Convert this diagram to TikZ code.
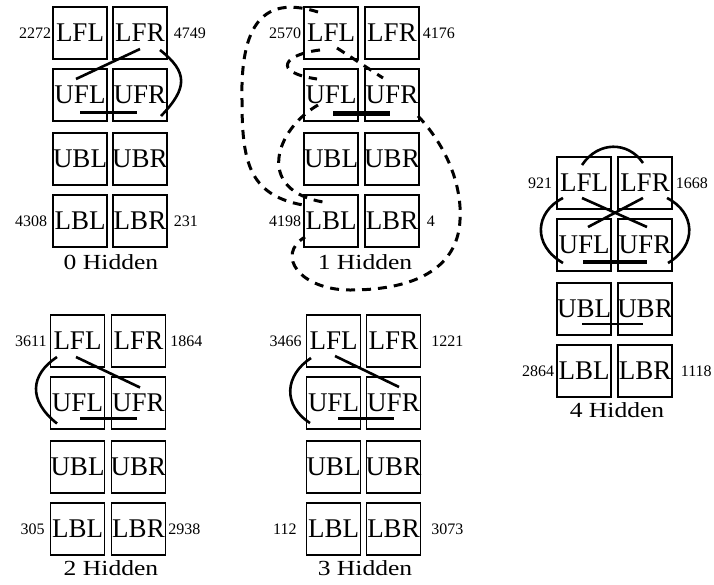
\documentclass[tikz,border=0pt]{standalone}
\usepackage{fontspec}
\setmainfont{Liberation Serif}
\usetikzlibrary{calc}
\tikzset{
  cell/.style={draw, line width=1.4pt, minimum width=54pt, minimum height=52pt, inner sep=0pt, font=\fontsize{27}{27}\selectfont},
  num/.style={inner sep=0pt, font=\fontsize{16}{16}\selectfont},
  capt/.style={inner sep=0pt, font=\fontsize{21.5}{21.5}\selectfont},
  link/.style={line width=2.6pt},
  dlink/.style={line width=3pt, dash pattern=on 9pt off 7pt},
  bar/.style={line width=3pt},
}
\newcommand{\cubepanel}[4]{%
  \node[cell] (#1LFL) at ({#2},{#4}) {\makebox[0pt]{LFL}};
  \node[cell] (#1LFR) at ({#3},{#4}) {\makebox[0pt]{LFR}};
  \node[cell] (#1UFL) at ({#2},{#4+62}) {\makebox[0pt]{UFL}};
  \node[cell] (#1UFR) at ({#3},{#4+62}) {\makebox[0pt]{UFR}};
  \node[cell] (#1UBL) at ({#2},{#4+126}) {\makebox[0pt]{UBL}};
  \node[cell] (#1UBR) at ({#3},{#4+126}) {\makebox[0pt]{UBR}};
  \node[cell] (#1LBL) at ({#2},{#4+188}) {\makebox[0pt]{LBL}};
  \node[cell] (#1LBR) at ({#3},{#4+188}) {\makebox[0pt]{LBR}};
}
\newcommand{\cubenums}[9]{%
  \node[num, anchor=east] (#1n1) at ($(#1LFL.west)+(#2,0)$) {#6};
  \node[num, anchor=west] (#1n2) at ($(#1LFR.east)+(#3,0)$) {#7};
  \node[num, anchor=east] (#1n3) at ($(#1LBL.west)+(#4,0)$) {#8};
  \node[num, anchor=west] (#1n4) at ($(#1LBR.east)+(#5,0)$) {#9};
}
\begin{document}
\begin{tikzpicture}[x=1pt,y=-1pt]
\useasboundingbox (0,0) rectangle (714,584);

\cubepanel{a}{80}{140}{33}
\cubepanel{b}{331}{392}{33}
\cubepanel{c}{77.5}{138.5}{341}
\cubepanel{d}{333.5}{393.5}{341}
\cubepanel{e}{584}{645}{183}

\cubenums{a}{-1}{6}{-5}{6}{2272}{4749}{4308}{231}
\cubenums{b}{-2}{3}{-2}{7}{2570}{4176}{4198}{4}
\cubenums{c}{-3}{4}{-5}{2}{3611}{1864}{305}{2938}
\cubenums{d}{-4}{10}{-9}{10}{3466}{1221}{112}{3073}
\cubenums{e}{-4}{3}{-2}{8}{921}{1668}{2864}{1118}

\node[capt] (acap) at (111,262) {\scalebox{1.19}[1]{0 Hidden}};
\node[capt] (bcap) at (365,262) {\scalebox{1.19}[1]{1 Hidden}};
\node[capt] (ccap) at (111,568) {\scalebox{1.19}[1]{2 Hidden}};
\node[capt] (dcap) at (365,568) {\scalebox{1.19}[1]{3 Hidden}};
\node[capt] (ecap) at (617,410) {\scalebox{1.19}[1]{4 Hidden}};

% panel 0
\draw[link] ($(aLFR)+(0,16)$) -- ($(aUFL)+(-4,-16)$);
\draw[link] ($(aLFR)+(20,17)$) .. controls ($(aLFR)+(48,39)$) and ($(aUFR)+(48,-7)$) .. ($(aUFR)+(21,21)$);
\draw[bar] ($(aUFL)+(0,17)$) -- ($(aUFR)+(-3,17)$);

% panel 1
\draw[dlink] ($(bLFL)+(-13,-21)$) .. controls ($(bLFL)+(-61,-36)$) and ($(bLFL)+(-91,-18)$) .. ($(bUFL)+(-89,5)$) .. controls ($(bUBL)+(-89,1)$) and ($(bLBL)+(-83,-26)$) .. ($(bLBL)+(-28,-16)$);
\draw[dlink] ($(bLFL)+(-11,17)$) .. controls ($(bLFL)+(-46,21)$) and ($(bUFL)+(-61,-23)$) .. ($(bUFL)+(-14,-16)$);
\draw[dlink] ($(bUFL)+(-13,10)$) .. controls ($(bUFL)+(-56,35)$) and ($(bLBL)+(-76,-31)$) .. ($(bLBL)+(-8,-19)$);
\draw[dlink] ($(bLFL)+(6,15)$) -- ($(bUFR)+(-9,-17)$);
\draw[dlink] ($(bUFR)+(26,21)$) .. controls ($(bUBR)+(58,-9)$) and ($(bUBR)+(70,31)$) .. ($(bLBR)+(68,-1)$) .. controls ($(bLBR)+(66,44)$) and ($(bLBR)+(28,69)$) .. ($(bLBR)+(-42,69)$) .. controls ($(bLBL)+(-31,69)$) and ($(bLBL)+(-56,34)$) .. ($(bLBL)+(-26,16)$);
\draw[bar, line width=5pt] ($(bUFL)+(2,18)$) -- ($(bUFR)+(-2,18)$);

% panel 2
\draw[link] ($(cLFL)+(-1.5,16)$) -- ($(cUFR)+(1.5,-15.5)$);
\draw[link] ($(cLFL)+(-20.5,16)$) .. controls ($(cLFL)+(-47.5,34)$) and ($(cUFL)+(-49.5,-2.5)$) .. ($(cUFL)+(-20.5,20.5)$);
\draw[bar] ($(cUFL)+(2.5,15.5)$) -- ($(cUFR)+(-1.5,15.5)$);

% panel 3
\draw[link] ($(dLFL)+(1.5,15)$) -- ($(dUFR)+(5.5,-16)$);
\draw[link] ($(dLFL)+(-22.5,17)$) .. controls ($(dLFL)+(-48.5,34)$) and ($(dUFL)+(-51.5,2)$) .. ($(dUFL)+(-23.5,20)$);
\draw[bar] ($(dUFL)+(4.5,15)$) -- ($(dUFR)+(0.5,15)$);

% panel 4
\draw[link] ($(eLFL)+(-2,-18)$) .. controls ($(eLFL)+(14,-42)$) and ($(eLFR)+(-17,-42)$) .. ($(eLFR)+(-2,-20)$);
\draw[link] ($(eLFL)+(-2,15)$) -- ($(eUFR)+(2,-18)$);
\draw[link] ($(eLFR)+(-2,15)$) -- ($(eUFL)+(4,-18)$);
\draw[link] ($(eLFL)+(-21,15)$) .. controls ($(eLFL)+(-49,29)$) and ($(eUFL)+(-52,0)$) .. ($(eUFL)+(-21,18)$);
\draw[link] ($(eLFR)+(22,15)$) .. controls ($(eLFR)+(50,29)$) and ($(eUFR)+(53,0)$) .. ($(eUFR)+(23,18)$);
\draw[bar, line width=4pt] ($(eUFL)+(-1,17)$) -- ($(eUFR)+(2,17)$);
\draw[bar, line width=2.5pt] ($(eUBL)+(-2,15)$) -- ($(eUBR)+(-2,15)$);
\end{tikzpicture}
\end{document}
